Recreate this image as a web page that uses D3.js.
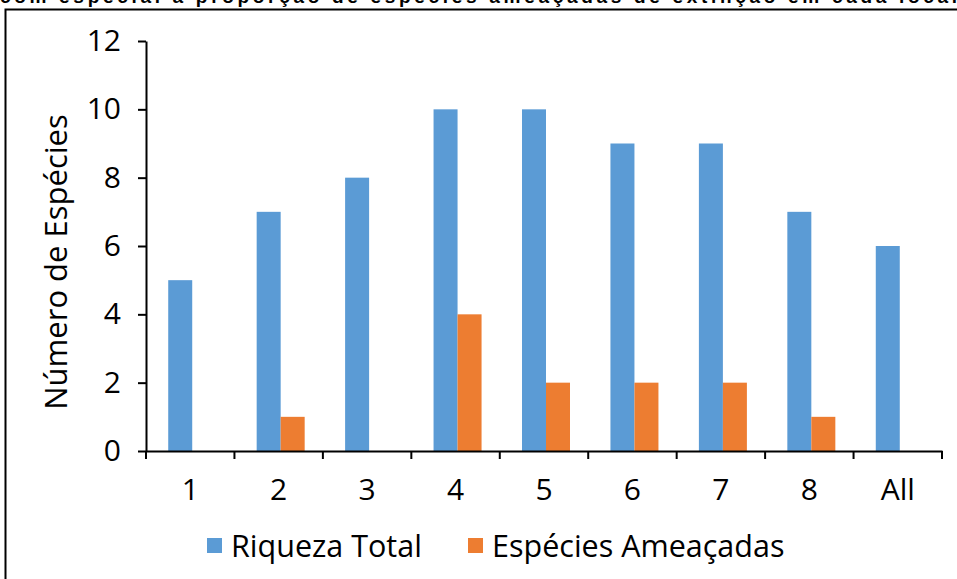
<!DOCTYPE html>
<html><head><meta charset="utf-8">
<script src="https://cdn.jsdelivr.net/npm/d3@7"></script>
<style>body{margin:0;background:#fff;overflow:hidden}svg{display:block}</style>
</head><body>
<svg id="c" width="957" height="579"></svg>
<script>
const categories = ["1","2","3","4","5","6","7","8","All"];
const riquezaTotal = [5,7,8,10,10,9,9,7,6];
const especiesAmeacadas = [0,1,0,4,2,2,2,1,0];
const yTicks = [0,2,4,6,8,10,12];
const seriesNames = ["Riqueza Total","Espécies Ameaçadas"];
const colors = ["#5B9BD5","#ED7D31"];
const titleText = "com especial a proporção de espécies ameaçadas de extinção em cada local";

const svg = d3.select("#c");
const font = "'Open Sans', 'Noto Sans', sans-serif";

// cut-off title at top
svg.append("text").attr("x", 0).attr("y", 3).attr("font-family","'Liberation Sans', Arial, sans-serif")
  .attr("font-weight","bold").attr("font-size",19).attr("fill","#000").attr("textLength",957).text(titleText);

// frame
svg.append("path").attr("d","M5.5,590 V9.5 H960").attr("fill","none").attr("stroke","#000").attr("stroke-width",2);

const pL = 146, pR = 942, pT = 41, pB = 451;
const x = d3.scaleBand().domain(categories).range([pL, pR]).paddingInner(0).paddingOuter(0);
const y = d3.scaleLinear().domain([0,12]).range([pB, pT]);
const inner = d3.scaleBand().domain([0,1]).range([0, 48]);

const data = categories.map((c,i)=>({c, v:[riquezaTotal[i], especiesAmeacadas[i]]}));
const g = svg.append("g");
data.forEach(d=>{
  const gx = x(d.c) + x.bandwidth()/2 - 24 + 2;
  d.v.forEach((v,k)=>{
    if (v<=0) return;
    g.append("rect").attr("x", gx + inner(k)).attr("width", inner.bandwidth())
      .attr("y", y(v)).attr("height", y(0)-y(v)).attr("fill", colors[k]);
  });
});

// y axis
const ya = svg.append("g").attr("transform",`translate(${pL},0)`)
  .call(d3.axisLeft(y).tickValues(yTicks).tickSize(8).tickPadding(17).tickSizeOuter(0));
ya.select(".domain").attr("stroke","#000").attr("stroke-width",2);
ya.selectAll(".tick line").attr("stroke","#000").attr("stroke-width",2);
ya.selectAll("text").attr("font-family",font).attr("font-size",30).attr("fill","#000");

// x axis
const xa = svg.append("g").attr("transform",`translate(0,${pB})`)
  .call(d3.axisBottom(x).tickSize(0).tickPadding(28));
xa.select(".domain").attr("stroke","#000").attr("stroke-width",2);
xa.selectAll("text").attr("font-family",font).attr("font-size",30).attr("fill","#000");
const bounds = categories.map(c=>x(c)).concat([pR]);
xa.selectAll(".bt").data(bounds).enter().append("line").attr("class","bt")
  .attr("x1",d=>d).attr("x2",d=>d).attr("y1",0).attr("y2",8).attr("stroke","#000").attr("stroke-width",2);

// y label
svg.append("text").attr("transform","translate(67,262) rotate(-90)").attr("text-anchor","middle")
  .attr("font-family",font).attr("font-size",31).attr("fill","#000").text("Número de Espécies");

// legend
const legX = [207, 468];
seriesNames.forEach((n,k)=>{
  svg.append("rect").attr("x",legX[k]).attr("y",538).attr("width",15).attr("height",15).attr("fill",colors[k]);
  svg.append("text").attr("x",legX[k]+24).attr("y",557).attr("font-family",font).attr("font-size",30.5)
    .attr("fill","#000").text(n);
});
</script>
</body></html>
